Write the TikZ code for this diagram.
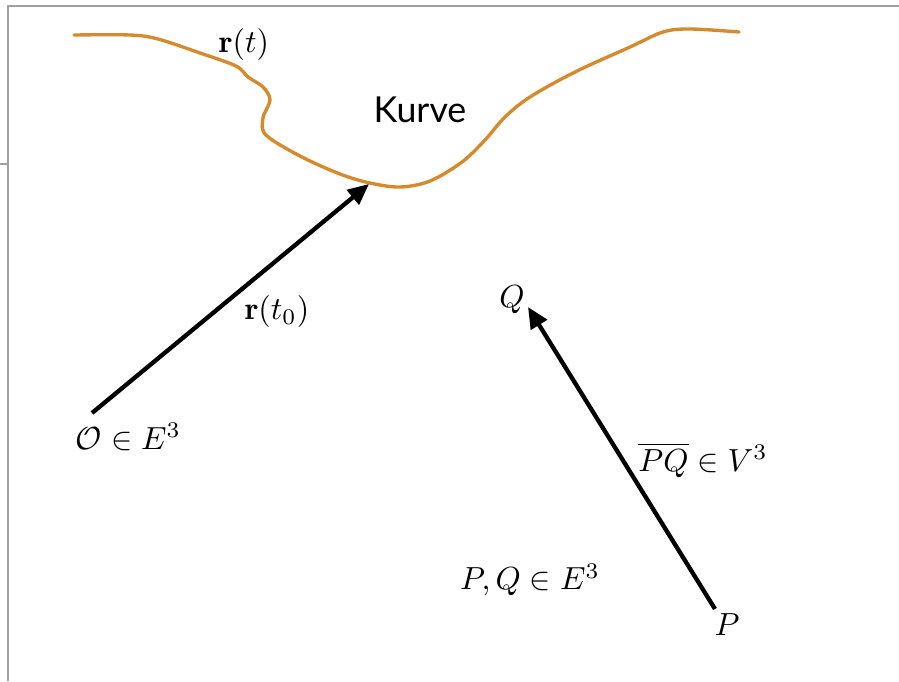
\documentclass[tikz,border=0pt]{standalone}
\usepackage{amsmath, amssymb}
\usepackage{fontspec}
\usetikzlibrary{arrows.meta}
\newfontfamily\kurvefont{Lato}
\definecolor{kurveorange}{RGB}{215,137,43}
\definecolor{framegray}{RGB}{160,160,160}

\begin{document}
\begin{tikzpicture}[x=0.011cm, y=-0.011cm, >={Triangle[length=6.6pt, width=5.8pt]},
    vec/.style={->, line width=1.35pt},
    curve/.style={kurveorange, line width=1.05pt, line cap=round},
    frame/.style={framegray, line width=0.35pt},
    lbl/.style={inner sep=1pt, font=\normalsize}]
    \useasboundingbox (0,0) rectangle (899,681);
    \draw[frame] (8,681) -- (8,6) -- (899,6);
    \draw[frame] (0,164) -- (8,164);

    % the curve r(t)
    \draw[curve] plot[smooth, tension=0.55] coordinates {
        (74,35) (130,35) (158,39) (200,53) (236,66) (248,77) (263,87)
        (270,100) (263,118) (266,135) (300,156) (340,174) (370,183)
        (400,187) (430,181) (462,162) (485,140) (505,117) (530,97)
        (575,72) (630,47) (663,32) (690,29) (739,32)};
    \node[font=\kurvefont\fontsize{11.2}{13}\selectfont] (kurve) at (420,110) {Kurve};
    \node[lbl] (rt) at (244,45) {$\mathbf{r}(t)$};

    % position vector
    \coordinate (O) at (92,413);
    \coordinate (rt0) at (369,184);
    \draw[vec] (O) -- (rt0);
    \node[lbl, anchor=west] (Olbl) at (72,437) {$\mathcal{O}\in E^3$};
    \node[lbl] (rt0lbl) at (277,312) {$\mathbf{r}(t_0)$};

    % free vector PQ
    \coordinate (P) at (715,609);
    \coordinate (Q) at (528,307);
    \draw[vec] (P) -- (Q);
    \node[lbl] (Qlbl) at (512,300) {$Q$};
    \node[lbl] (Plbl) at (727,625) {$P$};
    \node[lbl] (PQlbl) at (703,460) {$\overline{PQ}\in V^3$};
    \node[lbl] (PQE) at (530,580) {$P,Q\in E^3$};
\end{tikzpicture}
\end{document}
